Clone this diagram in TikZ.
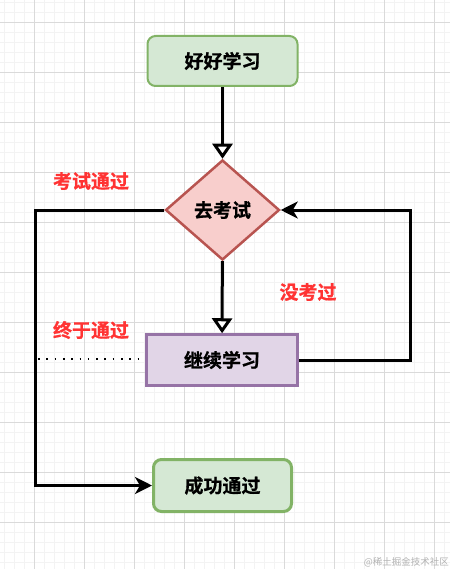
\documentclass[tikz,border=0pt]{standalone}
\usepackage{fontspec}
\setmainfont{Noto Sans CJK SC}[BoldFont={Noto Sans CJK SC Bold}, BoldFeatures={FakeBold=0.8}]
\usetikzlibrary{shapes.geometric,arrows.meta}
\definecolor{gfill}{HTML}{D5E8D4}
\definecolor{gline}{HTML}{82B366}
\definecolor{rfill}{HTML}{F8CECC}
\definecolor{rline}{HTML}{B85450}
\definecolor{pfill}{HTML}{E1D5E7}
\definecolor{pline}{HTML}{9673A6}
\definecolor{lbl}{HTML}{FF3333}
\definecolor{minorc}{HTML}{F3F3F3}
\definecolor{majorc}{HTML}{DADADA}
\tikzset{
  boxtext/.style={font=\fontsize{19pt}{22pt}\selectfont\bfseries, text=black},
  greenbox/.style={boxtext, draw=gline, fill=gfill, line width=2pt, rounded corners=8pt, minimum width=150pt, minimum height=50pt, inner sep=0pt},
  purplebox/.style={boxtext, draw=pline, fill=pfill, line width=2.5pt, minimum width=151pt, minimum height=51pt, inner sep=0pt},
  decision/.style={boxtext, diamond, draw=rline, fill=rfill, line width=2.5pt, minimum width=114pt, minimum height=100pt, inner sep=0pt},
  redlabel/.style={font=\fontsize{19pt}{22pt}\selectfont\bfseries, text=lbl, inner sep=0pt},
  flow/.style={line width=3pt, draw=black},
  openhead/.style={-{Triangle[open, length=15pt, width=20pt, line width=3pt, fill=white]}},
  solidhead/.style={-{Stealth[length=17pt, width=17pt, inset=5pt]}},
  minorgrid/.style={draw=minorc, line width=0.6pt},
  majorgrid/.style={draw=majorc, line width=0.7pt},
}
\begin{document}
\begin{tikzpicture}[x=1pt,y=-1pt]
\useasboundingbox (0,0) rectangle (450,569);
\fill[white] (0,0) rectangle (450,569);
% grid
\foreach \x in {4,14,...,444} \draw[minorgrid] (\x,0) -- (\x,569);
\foreach \y in {2,12,...,562} \draw[minorgrid] (0,\y) -- (450,\y);
\foreach \x in {34,84,...,434} \draw[majorgrid] (\x,0) -- (\x,569);
\foreach \y in {22,72,...,522} \draw[majorgrid] (0,\y) -- (450,\y);
% nodes
\node[greenbox] (study) at (222.5,61) {好好学习};
\node[decision] (exam) at (222.5,210) {去考试};
\node[purplebox] (cont) at (222,360) {继续学习};
\node[greenbox, line width=3pt, minimum width=138pt, minimum height=52pt] (pass) at (222.5,485.5) {成功通过};
\coordinate (rt) at (410,210);
\coordinate (lt) at (35,210);
\coordinate (dl) at (38,359);
% connectors
\draw[flow, openhead] (study) -- (exam);
\draw[flow, openhead] (exam) -- (cont);
\draw[flow, solidhead] (cont.east) -| (rt) -- (exam.east);
\draw[flow, solidhead] (exam.west) -- (lt) |- (pass.west);
\draw[line width=2pt, dash pattern=on 1.6pt off 6.7pt, shorten >=5pt] (dl) -- (cont.west |- dl);
% labels
\node[redlabel] (l1) at (91,181) {考试通过};
\node[redlabel] (l2) at (91,330) {终于通过};
\node[redlabel] (l3) at (308,292) {没考过};
\node[font=\fontsize{9.5pt}{11pt}\selectfont, text=black!30, anchor=east, inner sep=0pt] (wm) at (449,562) {@稀土掘金技术社区};
\end{tikzpicture}
\end{document}
